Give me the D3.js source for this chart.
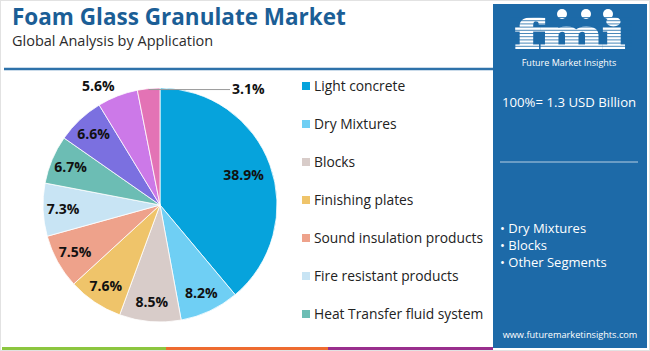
<!DOCTYPE html>
<html>
<head>
<meta charset="utf-8">
<script src="https://cdn.jsdelivr.net/npm/d3@7"></script>
<style>
  html, body { margin: 0; padding: 0; background: #fff; }
  svg { display: block; }
</style>
</head>
<body>
<svg id="chart" width="650" height="351"></svg>
<script>
// ---- data ----
const categories = ["Light concrete", "Dry Mixtures", "Blocks", "Finishing plates",
  "Sound insulation products", "Fire resistant products", "Heat Transfer fluid system",
  "Road construction", "Filtration", "Others"];
const values = [38.9, 8.2, 8.5, 7.6, 7.5, 7.3, 6.7, 6.6, 5.6, 3.1];
const colors = ["#06a3dc", "#6fcff4", "#d8ccc9", "#efc46a", "#eea28b", "#c8e4f4",
  "#6cbdb4", "#7b70e0", "#cc79e8", "#e373b5"];
const legendShown = 7;
const title = "Foam Glass Granulate Market";
const subtitle = "Global Analysis by Application";
const totalText = "100%= 1.3 USD Billion";
const bullets = ["Dry Mixtures", "Blocks", "Other Segments"];
const website = "www.futuremarketinsights.com";

const svg = d3.select("#chart");
const W = 650, H = 351;
const font = "'Open Sans', 'DejaVu Sans', sans-serif";

// outer border
svg.append("rect").attr("x", 0.5).attr("y", 0.5).attr("width", W - 1).attr("height", H - 1)
  .attr("fill", "#fff").attr("stroke", "#e2e2e2");

// title
svg.append("text").attr("x", 12).attr("y", 25).text(title)
  .attr("font-family", font).attr("font-weight", 700).attr("font-size", 22.5)
  .attr("fill", "#1b5e96");
svg.append("text").attr("x", 12).attr("y", 46).text(subtitle)
  .attr("font-family", font).attr("font-size", 14.5).attr("fill", "#2b2b2b");

// header line
svg.append("line").attr("x1", 4).attr("x2", 493).attr("y1", 69).attr("y2", 69)
  .attr("stroke", "#2e72aa").attr("stroke-width", 2.5);

// bottom colour bar
const barSegs = [["#8cc63f", 2, 166], ["#ee6b30", 166, 328], ["#992f8d", 328, 493]];
barSegs.forEach(([c, a, b]) => svg.append("rect").attr("x", a).attr("y", 347)
  .attr("width", b - a).attr("height", 3).attr("fill", c));

// ---- pie ----
const cx = 160, cy = 205, R = 117;
const pie = d3.pie().sort(null).value(d => d)(values);
const arc = d3.arc().innerRadius(0).outerRadius(R);
const g = svg.append("g").attr("transform", `translate(${cx},${cy})`);
g.selectAll("path").data(pie).join("path")
  .attr("d", arc).attr("fill", (d, i) => colors[i])
  .attr("stroke", "#fff").attr("stroke-width", 0.8);

const n = values.length;
pie.forEach((d, i) => {
  const a = (d.startAngle + d.endAngle) / 2;
  const lbl = values[i].toFixed(1) + "%";
  if (i < n - 2) {
    const r = i === 0 ? 0.76 * R : 0.83 * R;
    g.append("text").attr("x", r * Math.sin(a)).attr("y", -r * Math.cos(a))
      .attr("dy", "0.35em").attr("text-anchor", "middle").text(lbl)
      .attr("font-family", font).attr("font-weight", 700).attr("font-size", 14)
      .attr("fill", "#111");
  } else if (i === n - 2) {
    const r = R + 8;
    g.append("text").attr("x", r * Math.sin(a)).attr("y", -r * Math.cos(a))
      .attr("dy", "0.2em").attr("text-anchor", "end").text(lbl)
      .attr("font-family", font).attr("font-weight", 700).attr("font-size", 14)
      .attr("fill", "#111");
  } else {
    const x0 = R * Math.sin(a), y0 = -R * Math.cos(a) + 1;
    g.append("polyline").attr("points", `${x0},${y0} ${x0 + 20},${y0} 70,${y0}`)
      .attr("fill", "none").attr("stroke", "#9a9a9a").attr("stroke-width", 1);
    g.append("text").attr("x", 72).attr("y", y0).attr("dy", "0.3em").text(lbl)
      .attr("font-family", font).attr("font-weight", 700).attr("font-size", 14)
      .attr("fill", "#111");
  }
});

// ---- legend ----
const lg = svg.append("g");
categories.slice(0, legendShown).forEach((c, i) => {
  const y = 86 + i * 38;
  lg.append("rect").attr("x", 302).attr("y", y - 4).attr("width", 8).attr("height", 8)
    .attr("fill", colors[i]);
  lg.append("text").attr("x", 314).attr("y", y).attr("dy", "0.35em").text(c)
    .attr("font-family", font).attr("font-size", 13.8).attr("fill", "#222");
});

// ---- right panel ----
const px = 493, pw = 154;
svg.append("rect").attr("x", px).attr("y", 4).attr("width", pw).attr("height", 344)
  .attr("fill", "#1d6aa8");

// logo
const logo = svg.append("g");
logo.append("text").attr("x", 515).attr("y", 48).text("fmi")
  .attr("font-family", "'DejaVu Serif', serif").attr("font-weight", 700)
  .attr("font-size", 40).attr("textLength", 110).attr("lengthAdjust", "spacingAndGlyphs")
  .attr("fill", "#fff").attr("stroke", "#fff").attr("stroke-width", 2.2);
[[562, 14], [586, 14], [608, 14]].forEach(([x, y]) =>
  logo.append("circle").attr("cx", x).attr("cy", y).attr("r", 5).attr("fill", "#fff"));
for (let y = 17; y < 51; y += 3.2) {
  logo.append("rect").attr("x", 510).attr("y", y).attr("width", 122).attr("height", 1)
    .attr("fill", "#1d6aa8").attr("opacity", 0.8);
}
svg.append("text").attr("x", 569).attr("y", 66).attr("text-anchor", "middle")
  .text("Future Market Insights").attr("font-family", font).attr("font-size", 9)
  .attr("fill", "#fff");

svg.append("text").attr("x", 502).attr("y", 107).text(totalText)
  .attr("font-family", font).attr("font-size", 13.2).attr("fill", "#fff");
svg.append("line").attr("x1", 500).attr("x2", 638).attr("y1", 162).attr("y2", 162)
  .attr("stroke", "#b8cfe3").attr("stroke-width", 1);

bullets.forEach((b, i) => {
  svg.append("text").attr("x", 500).attr("y", 228 + i * 17).attr("dy", "0.35em")
    .text("\u2022 " + b).attr("font-family", font).attr("font-size", 13).attr("fill", "#fff");
});
svg.append("text").attr("x", 570).attr("y", 335).attr("dy", "0.35em")
  .attr("text-anchor", "middle").text(website)
  .attr("font-family", font).attr("font-size", 9.2).attr("fill", "#fff");
</script>
</body>
</html>
